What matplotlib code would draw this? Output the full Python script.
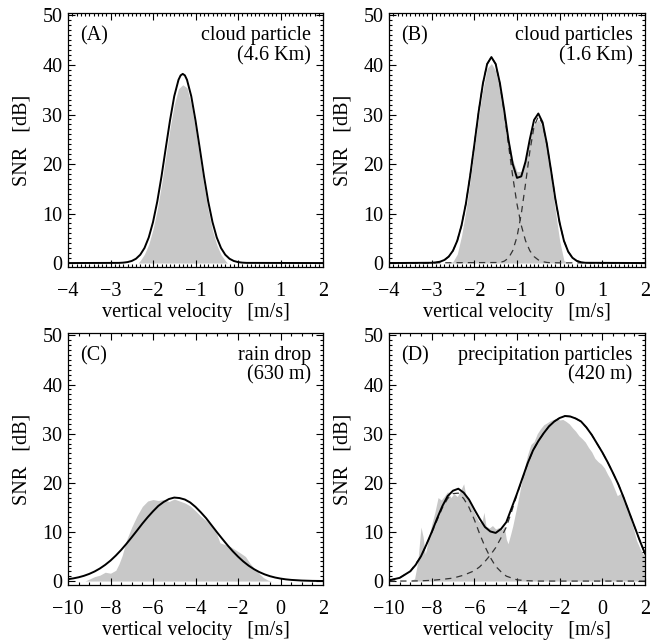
import matplotlib
matplotlib.use('Agg')
import matplotlib.pyplot as plt
from matplotlib.ticker import MultipleLocator

plt.rcParams['font.family'] = ['Liberation Serif', 'DejaVu Serif']
plt.rcParams['font.size'] = 14.5

# ---- panel A : cloud particle (4.6 Km) ----
a_obs_v = [-2.35, -2.3, -2.2, -2.1, -2.0, -1.9, -1.8, -1.7, -1.6, -1.5, -1.4, -1.3, -1.2,
           -1.1, -1.0, -0.9, -0.8, -0.7, -0.6, -0.5, -0.4, -0.3, -0.25]
a_obs_snr = [0, 0.5, 1.8, 3.8, 6.8, 10.8, 15.8, 21.5, 27.2, 32.0, 35.2, 36.0, 35.4,
             32.0, 27.0, 21.2, 15.6, 10.6, 6.6, 3.7, 1.7, 0.5, 0]
a_fit_v = [-4.0, -2.8, -2.7, -2.6, -2.5, -2.4, -2.3, -2.2, -2.1, -2.0, -1.9, -1.8, -1.7, -1.6,
           -1.5, -1.4, -1.35, -1.3, -1.25, -1.2, -1.1, -1.0, -0.9, -0.8, -0.7, -0.6, -0.5,
           -0.4, -0.3, -0.2, -0.1, 0.0, 0.1, 0.2, 2.0]
a_fit_snr = [0, 0.03, 0.08, 0.19, 0.42, 0.87, 1.68, 3.04, 5.17, 8.26, 12.4, 17.5, 23.2, 28.8,
             33.7, 37.0, 37.9, 38.2, 37.9, 37.0, 33.7, 28.8, 23.2, 17.5, 12.4, 8.26, 5.17,
             3.04, 1.68, 0.87, 0.42, 0.19, 0.08, 0.03, 0]

# ---- panel B : cloud particles (1.6 Km) ----
b_obs_v = [-2.6, -2.5, -2.4, -2.3, -2.2, -2.1, -2.0, -1.9, -1.8, -1.7, -1.6, -1.5, -1.4, -1.3,
           -1.2, -1.1, -1.0, -0.9, -0.8, -0.7, -0.6, -0.5, -0.4, -0.3, -0.2, -0.1, 0.0, 0.1, 0.2]
b_obs_snr = [0, 0.3, 1.8, 5.5, 10.5, 16.5, 23.0, 29.5, 35.0, 39.3, 40.3, 38.8, 35.0, 30.0,
             25.0, 20.8, 18.5, 18.5, 21.0, 24.8, 28.0, 29.0, 27.5, 23.0, 17.0, 10.5, 4.5, 0.5, 0]
b_fit_v = [-4.0, -3.0, -2.9, -2.8, -2.7, -2.6, -2.5, -2.4, -2.3, -2.2, -2.1, -2.0, -1.9, -1.8,
           -1.7, -1.6, -1.5, -1.4, -1.3, -1.2, -1.1, -1.0, -0.9, -0.8, -0.7, -0.6, -0.5,
           -0.4, -0.3, -0.2, -0.1, 0.0, 0.1, 0.2, 0.3, 0.4, 0.5, 0.6, 2.0]
b_fit_snr = [0, 0.05, 0.12, 0.28, 0.63, 1.3, 2.5, 4.5, 7.6, 11.9, 17.5, 23.9, 30.5, 36.2,
             40.2, 41.6, 40.2, 36.3, 30.9, 24.9, 20.0, 17.2, 17.5, 20.5, 25.0, 28.9, 30.2,
             28.4, 24.1, 18.6, 12.9, 8.1, 4.5, 2.3, 1.06, 0.44, 0.16, 0.05, 0]
b_comp1_v = [-4.0, -3.0, -2.9, -2.8, -2.7, -2.6, -2.5, -2.4, -2.3, -2.2, -2.1, -2.0, -1.9, -1.8,
             -1.7, -1.6, -1.5, -1.4, -1.3, -1.2, -1.1, -1.0, -0.9, -0.8, -0.7, -0.6, -0.5,
             -0.4, -0.3, -0.2, 2.0]
b_comp1_snr = [0, 0.05, 0.12, 0.28, 0.63, 1.3, 2.5, 4.5, 7.6, 11.9, 17.5, 23.9, 30.5, 36.2,
               40.2, 41.6, 40.2, 36.2, 30.5, 23.9, 17.5, 11.9, 7.6, 4.5, 2.5, 1.3, 0.63,
               0.28, 0.12, 0.05, 0]
b_comp2_v = [-4.0, -1.4, -1.3, -1.2, -1.1, -1.0, -0.9, -0.8, -0.7, -0.6, -0.5, -0.4, -0.3,
             -0.2, -0.1, 0.0, 0.1, 0.2, 0.3, 0.4, 0.5, 0.6, 2.0]
b_comp2_snr = [0, 0.11, 0.37, 1.0, 2.5, 5.3, 9.9, 16.0, 22.5, 27.6, 29.6, 28.1, 24.0,
               18.5, 12.9, 8.1, 4.5, 2.3, 1.06, 0.44, 0.16, 0.05, 0]

# ---- panel C : rain drop (630 m) ----
c_obs_v = [-9.2, -9.0, -8.75, -8.5, -8.25, -8.0, -7.75, -7.6, -7.45, -7.25, -7.0, -6.75, -6.5,
           -6.25, -6.0, -5.75, -5.5, -5.25, -5.0, -4.75, -4.5, -4.25, -4.0, -3.75, -3.5,
           -3.25, -3.0, -2.85, -2.6, -2.35, -2.1, -1.85, -1.65, -1.45, -1.2, -1.0, -0.8,
           -0.6, -0.4]
c_obs_snr = [0, 0.4, 0.9, 1.2, 1.8, 1.6, 2.2, 3.5, 5.2, 8.3, 11.0, 13.3, 15.2,
             16.3, 16.6, 16.4, 16.6, 16.2, 16.7, 16.3, 15.9, 15.3, 14.3, 13.2, 12.3,
             11.2, 9.6, 7.8, 7.4, 7.0, 6.3, 5.6, 5.0, 3.7, 2.4, 1.5, 0.7,
             0.2, 0]
c_fit_v = [-10.0, -9.75, -9.5, -9.25, -9.0, -8.75, -8.5, -8.25, -8.0, -7.75, -7.5, -7.25, -7.0,
           -6.75, -6.5, -6.25, -6.0, -5.75, -5.5, -5.25, -5.0, -4.75, -4.5, -4.25, -4.0,
           -3.75, -3.5, -3.25, -3.0, -2.75, -2.5, -2.25, -2.0, -1.75, -1.5, -1.25, -1.0,
           -0.75, -0.5, -0.25, 0.0, 0.25, 0.5, 1.0, 1.5, 2.0]
c_fit_snr = [0.38, 0.55, 0.77, 1.07, 1.46, 1.95, 2.56, 3.30, 4.17, 5.19, 6.33, 7.59, 8.93,
             10.3, 11.7, 13.0, 14.2, 15.3, 16.1, 16.7, 17.0, 16.9, 16.6, 16.0, 15.1,
             14.0, 12.8, 11.4, 10.0, 8.65, 7.33, 6.09, 4.98, 3.99, 3.14, 2.43, 1.84,
             1.37, 1.00, 0.72, 0.51, 0.35, 0.24, 0.105, 0.04, 0.015]

# ---- panel D : precipitation particles (420 m) ----
d_obs_v = [-9.0, -8.8, -8.65, -8.5, -8.4, -8.3, -8.15, -8.0, -7.85, -7.7, -7.55, -7.4, -7.25,
           -7.1, -6.95, -6.8, -6.65, -6.5, -6.4, -6.25, -6.1, -5.95, -5.8, -5.65, -5.55,
           -5.45, -5.3, -5.15, -5.0, -4.85, -4.7, -4.6, -4.5, -4.42, -4.3, -4.2, -4.05,
           -3.9, -3.8, -3.65, -3.5, -3.35, -3.2, -3.05, -2.9, -2.75, -2.6, -2.45, -2.3,
           -2.15, -2.0, -1.85, -1.7, -1.55, -1.4, -1.25, -1.1, -0.95, -0.8, -0.65, -0.5,
           -0.35, -0.2, -0.05, 0.1, 0.25, 0.4, 0.55, 0.7, 0.85, 1.0, 1.15, 1.3, 1.45, 1.6,
           1.75, 1.9, 2.0]
d_obs_snr = [0, 0.5, 4.0, 11.0, 9.0, 5.5, 8.5, 11.5, 14.0, 17.0, 16.5, 17.3, 18.2,
             17.0, 17.8, 17.2, 18.4, 19.8, 17.5, 16.2, 14.8, 13.5, 12.2, 11.8, 14.0,
             11.2, 10.8, 11.3, 10.6, 10.9, 10.5, 11.2, 8.5, 7.6, 9.5, 11.2, 14.3,
             17.5, 19.8, 23.0, 25.8, 27.8, 28.4, 30.0, 31.0, 31.8, 32.2, 32.6, 32.9,
             33.1, 32.8, 32.9, 32.5, 32.0, 31.2, 30.5, 29.6, 29.0, 28.3, 27.2, 26.3,
             25.0, 24.3, 23.8, 23.0, 21.7, 20.6, 19.0, 17.4, 17.8, 16.8, 15.0, 13.0, 10.8, 8.3,
             6.8, 5.5, 5.2]
d_fit_v = [-10.0, -9.5, -9.0, -8.75, -8.5, -8.25, -8.0, -7.75, -7.5, -7.25, -7.0, -6.75, -6.5,
           -6.25, -6.0, -5.75, -5.5, -5.25, -5.0, -4.75, -4.5, -4.25, -4.0, -3.75, -3.5,
           -3.25, -3.0, -2.75, -2.5, -2.25, -2.0, -1.75, -1.5, -1.25, -1.0, -0.75, -0.5,
           -0.25, 0.0, 0.25, 0.5, 0.75, 1.0, 1.25, 1.5, 1.75, 2.0]
d_fit_snr = [0.16, 0.65, 2.0, 3.3, 5.05, 7.4, 9.95, 12.7, 15.25, 17.3, 18.4, 18.8, 18.0,
             16.6, 14.6, 12.7, 11.0, 10.1, 9.8, 10.6, 12.0, 14.9, 17.8, 20.9, 24.0,
             26.6, 28.5, 30.1, 31.5, 32.5, 33.2, 33.6, 33.5, 33.1, 32.5, 31.3, 29.8,
             28.0, 26.2, 24.2, 22.0, 19.7, 17.0, 14.1, 11.2, 8.3, 5.6]
d_comp1_v = [-10.0, -9.0, -8.5, -8.0, -7.5, -7.0, -6.5, -6.0, -5.75, -5.5, -5.25, -5.0, -4.75,
             -4.5, -4.25, -4.0, -3.75, -3.5, -3.25, -3.0, -2.75, -2.5, -2.25, -2.0, -1.75,
             -1.5, -1.25, -1.0, -0.75, -0.5, -0.25, 0.0, 0.25, 0.5, 0.75, 1.0, 1.25, 1.5,
             1.75, 2.0]
d_comp1_snr = [0, 0.01, 0.05, 0.15, 0.35, 0.6, 1.2, 2.1, 2.9, 4.0, 5.3, 6.8, 8.8,
               11.0, 14.2, 17.6, 20.8, 23.9, 26.6, 28.5, 30.1, 31.5, 32.5, 33.2, 33.6,
               33.5, 33.1, 32.5, 31.3, 29.8, 28.0, 26.2, 24.2, 22.0, 19.7, 17.0, 14.1, 11.2,
               8.3, 5.6]
d_comp2_v = [-10.0, -9.5, -9.0, -8.5, -8.0, -7.5, -7.25, -7.0, -6.75, -6.5, -6.25, -6.0,
             -5.75, -5.5, -5.25, -5.0, -4.75, -4.5, -4.0, -3.5, -3.0, 2.0]
d_comp2_snr = [0.16, 0.65, 2.0, 5.0, 9.8, 14.9, 16.8, 17.8, 17.9, 16.8, 15.0, 12.5,
               9.6, 7.0, 4.8, 3.0, 1.9, 1.0, 0.25, 0.06, 0, 0]

panels = [
    # label, title lines, obs, fit, components, xlim, x major, x minor, axes position
    ('(A)', 'cloud particle', '(4.6 Km)', (a_obs_v, a_obs_snr), (a_fit_v, a_fit_snr), [],
     (-4, 2), 1, 0.1, [68 / 651, 1 - 267 / 643, 255 / 651, 254 / 643]),
    ('(B)', 'cloud particles', '(1.6 Km)', (b_obs_v, b_obs_snr), (b_fit_v, b_fit_snr),
     [(b_comp1_v, b_comp1_snr), (b_comp2_v, b_comp2_snr)],
     (-4, 2), 1, 0.1, [389 / 651, 1 - 267 / 643, 256 / 651, 254 / 643]),
    ('(C)', 'rain drop', '(630 m)', (c_obs_v, c_obs_snr), (c_fit_v, c_fit_snr), [],
     (-10, 2), 2, 0.5, [68 / 651, 1 - 585 / 643, 255 / 651, 252 / 643]),
    ('(D)', 'precipitation particles', '(420 m)', (d_obs_v, d_obs_snr), (d_fit_v, d_fit_snr),
     [(d_comp1_v, d_comp1_snr), (d_comp2_v, d_comp2_snr)],
     (-10, 2), 2, 0.5, [389 / 651, 1 - 585 / 643, 256 / 651, 252 / 643]),
]

fig = plt.figure(figsize=(6.51, 6.43), dpi=100)

for label, line1, line2, obs, fit, comps, xlim, xmaj, xmin, pos in panels:
    ax = fig.add_axes(pos)
    ax.fill_between(obs[0], 0, obs[1], color='#c8c8c8', linewidth=0)
    for cv, cs in comps:
        ax.plot(cv, cs, color='#333333', lw=0.9, dashes=(5, 4))
    ax.plot(fit[0], fit[1], color='black', lw=1.4)

    ax.set_xlim(*xlim)
    ax.set_ylim(-0.8, 50.5)
    ax.xaxis.set_major_locator(MultipleLocator(xmaj))
    ax.xaxis.set_minor_locator(MultipleLocator(xmin))
    ax.yaxis.set_major_locator(MultipleLocator(10))
    ax.yaxis.set_minor_locator(MultipleLocator(1))
    ax.tick_params(which='both', direction='in', top=True, right=True, width=0.8)
    ax.tick_params(which='major', length=5)
    ax.tick_params(which='minor', length=2.5)
    ax.tick_params(axis='x', pad=11)
    ax.tick_params(axis='y', pad=4)
    for sp in ax.spines.values():
        sp.set_linewidth(0.9)

    ax.set_xlabel('vertical velocity   [m/s]', labelpad=1)
    ax.set_ylabel('SNR   [dB]', labelpad=8)

    ax.text(0.047, 0.91, label, transform=ax.transAxes, ha='left', va='center')
    ax.text(0.952, 0.91, line1, transform=ax.transAxes, ha='right', va='center')
    ax.text(0.952, 0.832, line2, transform=ax.transAxes, ha='right', va='center')

fig.savefig('out.png', dpi=100)
